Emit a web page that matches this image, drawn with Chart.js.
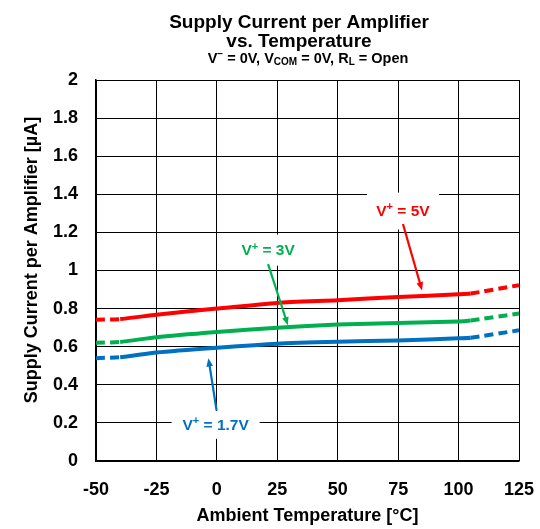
<!DOCTYPE html>
<html>
<head>
<meta charset="utf-8">
<script src="https://cdn.jsdelivr.net/npm/chart.js@4.4.1/dist/chart.umd.min.js"></script>
<style>
  html, body { margin: 0; padding: 0; background: #fff; }
</style>
</head>
<body>
<canvas id="chart" width="540" height="529"></canvas>
<script>
// temperatures (°C) where the curves were read
const temps = [-50, -40, -25, 0, 25, 50, 75, 100, 105, 125];
// supply current per amplifier (µA)
const iq5V  = [0.742, 0.745, 0.768, 0.800, 0.830, 0.844, 0.861, 0.875, 0.879, 0.923];
const iq3V  = [0.621, 0.625, 0.650, 0.677, 0.700, 0.716, 0.724, 0.732, 0.738, 0.774];
const iq17V = [0.540, 0.545, 0.570, 0.595, 0.616, 0.626, 0.633, 0.644, 0.647, 0.686];

const xTicks = [-50, -25, 0, 25, 50, 75, 100, 125];
const yTicks = [0, 0.2, 0.4, 0.6, 0.8, 1, 1.2, 1.4, 1.6, 1.8, 2];
const yTickLabels = ['0', '0.2', '0.4', '0.6', '0.8', '1', '1.2', '1.4', '1.6', '1.8', '2'];

// curves are measured from -40 to 105 °C, dashed outside
const specMin = -40;
const specMax = 105;

const RED = '#ff0000';
const GREEN = '#00b050';
const BLUE = '#0070c0';
const FONT = '"Liberation Sans", Arial, sans-serif';

// callout labels, placed in data units
const notes = [
  { label: '5V',   color: RED,   x: 77.0, y: 1.312, w: 72, h: 37, from: [77.0, 1.244], to: [84.9, 0.895] },
  { label: '3V',   color: GREEN, x: 21.2, y: 1.107, w: 70, h: 31, from: [21.2, 1.033], to: [29.4, 0.712] },
  { label: '1.7V', color: BLUE,  x: -0.5, y: 0.190, w: 88, h: 28, from: [-0.1, 0.265], to: [-3.5, 0.540] }
];

function toPoints(ys) {
  return temps.map((t, i) => ({ x: t, y: ys[i] }));
}

function series(label, ys, color) {
  return {
    label,
    data: toPoints(ys),
    borderColor: color,
    backgroundColor: color,
    borderWidth: 4,
    pointRadius: 0,
    tension: 0.2,
    segment: {
      borderDash: ctx => (ctx.p1.parsed.x <= specMin || ctx.p0.parsed.x >= specMax) ? [9, 5] : undefined
    }
  };
}

// draw text pieces with super/subscripts, centred on cx
function drawRich(ctx, parts, cx, y, size, color) {
  const small = Math.round(size * 0.7);
  const fontOf = p => `bold ${p.sup || p.sub ? small : size}px ${FONT}`;
  let total = 0;
  parts.forEach(p => { ctx.font = fontOf(p); total += ctx.measureText(p.t).width; });
  let x = cx - total / 2;
  ctx.fillStyle = color;
  ctx.textAlign = 'left';
  ctx.textBaseline = 'alphabetic';
  parts.forEach(p => {
    ctx.font = fontOf(p);
    let dy = 0;
    if (p.sup) dy = -size * 0.36;
    if (p.sub) dy = size * 0.2;
    ctx.fillText(p.t, x, y + dy);
    x += ctx.measureText(p.t).width;
  });
}

function arrow(ctx, x0, y0, x1, y1, color) {
  const ang = Math.atan2(y1 - y0, x1 - x0);
  const head = 9;
  ctx.strokeStyle = color;
  ctx.fillStyle = color;
  ctx.lineWidth = 2.2;
  ctx.beginPath();
  ctx.moveTo(x0, y0);
  ctx.lineTo(x1 - Math.cos(ang) * head * 0.8, y1 - Math.sin(ang) * head * 0.8);
  ctx.stroke();
  ctx.beginPath();
  ctx.moveTo(x1, y1);
  ctx.lineTo(x1 - head * Math.cos(ang - 0.38), y1 - head * Math.sin(ang - 0.38));
  ctx.lineTo(x1 - head * Math.cos(ang + 0.38), y1 - head * Math.sin(ang + 0.38));
  ctx.closePath();
  ctx.fill();
}

const calloutPlugin = {
  id: 'callouts',
  afterDatasetsDraw(chart) {
    const { ctx, scales: { x, y } } = chart;
    ctx.save();
    notes.forEach(n => {
      const cx = x.getPixelForValue(n.x);
      const cy = y.getPixelForValue(n.y);
      ctx.fillStyle = '#fff';
      ctx.fillRect(cx - n.w / 2, cy - n.h / 2, n.w, n.h);
      drawRich(ctx, [{ t: 'V' }, { t: '+', sup: true }, { t: ' = ' + n.label }], cx, cy + 5, 15.5, n.color);
      arrow(ctx,
        x.getPixelForValue(n.from[0]), y.getPixelForValue(n.from[1]),
        x.getPixelForValue(n.to[0]), y.getPixelForValue(n.to[1]), n.color);
    });
    ctx.restore();
  }
};

const titlePlugin = {
  id: 'titles',
  afterDraw(chart) {
    const { ctx } = chart;
    ctx.save();
    const cx = 299;
    ctx.fillStyle = '#000';
    ctx.textAlign = 'center';
    ctx.textBaseline = 'alphabetic';
    ctx.font = `bold 19px ${FONT}`;
    ctx.fillText('Supply Current per Amplifier', cx, 28);
    ctx.fillText('vs. Temperature', cx, 47);
    drawRich(ctx, [
      { t: 'V' }, { t: '\u2212', sup: true }, { t: ' = 0V, V' }, { t: 'COM', sub: true },
      { t: ' = 0V, R' }, { t: 'L', sub: true }, { t: ' = Open' }
    ], 308, 62.5, 14.5, '#000');

    // y axis title
    ctx.translate(32, 260);
    ctx.rotate(-Math.PI / 2);
    ctx.font = `bold 18px ${FONT}`;
    ctx.fillStyle = '#000';
    ctx.textAlign = 'center';
    ctx.textBaseline = 'middle';
    ctx.fillText('Supply Current per Amplifier [\u00b5A]', 0, 0);
    ctx.restore();
  }
};

new Chart(document.getElementById('chart'), {
  type: 'line',
  data: {
    datasets: [
      series('V+ = 5V', iq5V, RED),
      series('V+ = 3V', iq3V, GREEN),
      series('V+ = 1.7V', iq17V, BLUE)
    ]
  },
  options: {
    responsive: false,
    animation: false,
    layout: { padding: { left: 0, right: 21, top: 80, bottom: 0 } },
    plugins: {
      legend: { display: false },
      tooltip: { enabled: false }
    },
    scales: {
      x: {
        type: 'linear',
        min: -50,
        max: 125,
        afterBuildTicks: s => { s.ticks = xTicks.map(v => ({ value: v })); },
        afterFit: s => { s.height = 68; s.paddingLeft = 0; s.paddingRight = 0; },
        grid: { color: '#000', lineWidth: 1, drawTicks: false },
        border: { color: '#000', width: 1.5 },
        ticks: { color: '#000', font: { family: FONT, size: 18, weight: 'bold' }, padding: 18, maxRotation: 0 },
        title: {
          display: true,
          text: 'Ambient Temperature [\u00b0C]',
          color: '#000',
          font: { family: FONT, size: 18, weight: 'bold' },
          padding: { top: 0, bottom: 2 }
        }
      },
      y: {
        min: 0,
        max: 2,
        afterBuildTicks: s => { s.ticks = yTicks.map(v => ({ value: v })); },
        afterFit: s => { s.width = 96; },
        grid: { color: '#000', lineWidth: 1, drawTicks: false },
        border: { color: '#000', width: 1.5 },
        ticks: {
          color: '#000',
          font: { family: FONT, size: 18, weight: 'bold' },
          padding: 18,
          callback: (v, i) => yTickLabels[i]
        }
      }
    }
  },
  plugins: [calloutPlugin, titlePlugin]
});
</script>
</body>
</html>
